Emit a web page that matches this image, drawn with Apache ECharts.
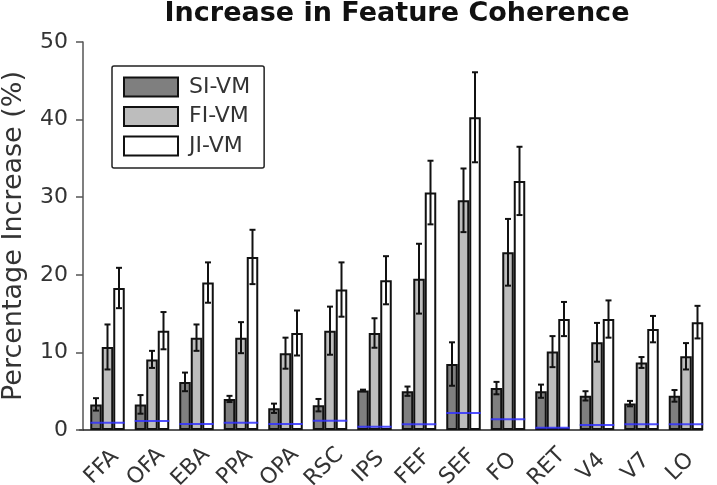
<!DOCTYPE html>
<html>
<head>
<meta charset="utf-8">
<script src="https://cdn.jsdelivr.net/npm/echarts@6/dist/echarts.min.js"></script>
<style>
  html, body { margin: 0; padding: 0; background: #fff; }
  #chart { width: 717px; height: 485px; }
</style>
</head>
<body>
<div id="chart"></div>
<script>
var regions = ['FFA', 'OFA', 'EBA', 'PPA', 'OPA', 'RSC', 'IPS', 'FEF', 'SEF', 'FO', 'RET', 'V4', 'V7', 'LO'];
var siVm = [3.3, 3.3, 6.2, 4.0, 2.8, 3.2, 5.1, 5.0, 8.5, 5.4, 5.0, 4.4, 3.4, 4.4];
var siErr = [0.8, 1.2, 1.2, 0.4, 0.6, 0.8, 0.1, 0.6, 2.8, 0.8, 0.85, 0.6, 0.35, 0.75];
var fiVm = [10.7, 9.1, 11.9, 11.9, 9.9, 12.8, 12.5, 19.5, 29.6, 22.9, 10.1, 11.3, 8.7, 9.5];
var fiErr = [2.9, 1.1, 1.7, 2.0, 2.0, 3.1, 1.9, 4.5, 4.1, 4.3, 2.0, 2.5, 0.7, 1.7];
var jiVm = [18.3, 12.8, 19.0, 22.3, 12.5, 18.1, 19.3, 30.6, 40.3, 32.1, 14.3, 14.3, 13.0, 13.9];
var jiErr = [2.6, 2.4, 2.6, 3.5, 2.9, 3.5, 3.1, 4.1, 5.8, 4.4, 2.2, 2.4, 1.7, 2.1];
// blue baseline drawn across each group
var chance = [0.94, 1.16, 0.77, 0.94, 0.77, 1.2, 0.43, 0.73, 2.2, 1.4, 0.3, 0.64, 0.73, 0.73];

var barW = 11.5;
var font = 'DejaVu Sans';

// error bar series; shift = bar centre offset from the tick, in bar widths
function errSeries(vals, errs, shift) {
  return {
    type: 'custom',
    z: 5,
    data: vals.map(function (v, i) { return [i, v, errs[i]]; }),
    encode: { x: 0, y: 1 },
    renderItem: function (params, api) {
      var i = api.value(0);
      var v = api.value(1);
      var e = api.value(2);
      var x = api.coord([i, 0])[0] + shift * barW;
      var top = api.coord([i, v + e])[1];
      var bot = api.coord([i, v - e])[1];
      var st = { stroke: '#111', lineWidth: 2 };
      return {
        type: 'group',
        children: [
          { type: 'line', shape: { x1: x, y1: top, x2: x, y2: bot }, style: st },
          { type: 'line', shape: { x1: x - 3, y1: top, x2: x + 3, y2: top }, style: st },
          { type: 'line', shape: { x1: x - 3, y1: bot, x2: x + 3, y2: bot }, style: st }
        ]
      };
    }
  };
}

function barSeries(name, vals, color) {
  return {
    name: name,
    type: 'bar',
    barWidth: barW,
    barGap: '0%',
    data: vals,
    itemStyle: { color: color, borderColor: '#111', borderWidth: 2 }
  };
}

var myChart = echarts.init(document.getElementById('chart'));
var option = {
  animation: false,
  title: {
    text: 'Increase in Feature Coherence',
    left: 397,
    textAlign: 'center',
    top: 0,
    padding: 0,
    textStyle: { fontFamily: font, fontWeight: 'bold', fontSize: 27, color: '#111' }
  },
  legend: {
    data: ['SI-VM', 'FI-VM', 'JI-VM'],
    orient: 'vertical',
    left: 112,
    top: 66,
    icon: 'rect',
    itemWidth: 54,
    itemHeight: 19,
    itemGap: 7.5,
    padding: [10, 14, 11, 11],
    borderColor: '#222',
    borderWidth: 1.5,
    borderRadius: 2,
    textStyle: { fontFamily: font, fontSize: 22, lineHeight: 19, color: '#333', padding: [0, 0, 0, 6] }
  },
  grid: { left: 79.5, top: 42, width: 623, bottom: 55, outerBoundsMode: 'none' },
  xAxis: {
    type: 'category',
    data: regions,
    axisLine: { lineStyle: { color: '#222', width: 1.5 } },
    axisTick: { alignWithLabel: true, length: 5, lineStyle: { color: '#222', width: 1.5 } },
    axisLabel: {
      rotate: 45, align: 'center', verticalAlign: 'middle',
      fontFamily: font, fontSize: 22, color: '#333', margin: 37
    }
  },
  yAxis: {
    type: 'value',
    min: 0,
    max: 50,
    interval: 10,
    offset: -3.5,
    name: 'Percentage Increase (%)',
    nameLocation: 'middle',
    nameGap: 56,
    nameTextStyle: { fontFamily: font, fontSize: 27, color: '#333' },
    axisLine: { show: true, lineStyle: { color: '#555', width: 1.5 } },
    axisTick: { show: true, length: 7, lineStyle: { color: '#555', width: 1.5 } },
    axisLabel: { fontFamily: font, fontSize: 22, color: '#333', margin: 15 },
    splitLine: { show: false }
  },
  series: [
    // empty slot so the tick falls between the SI and FI bars
    { name: 'pad', type: 'bar', barWidth: barW, barGap: '0%', data: regions.map(function () { return null; }) },
    barSeries('SI-VM', siVm, '#7f7f7f'),
    barSeries('FI-VM', fiVm, '#bdbdbd'),
    barSeries('JI-VM', jiVm, '#ffffff'),
    errSeries(siVm, siErr, -0.5),
    errSeries(fiVm, fiErr, 0.5),
    errSeries(jiVm, jiErr, 1.5),
    {
      type: 'custom',
      z: 6,
      data: chance.map(function (v, i) { return [i, v]; }),
      encode: { x: 0, y: 1 },
      renderItem: function (params, api) {
        var x = api.coord([api.value(0), 0])[0];
        var y = api.coord([api.value(0), api.value(1)])[1];
        return {
          type: 'line',
          shape: { x1: x - barW, y1: y, x2: x + 2 * barW, y2: y },
          style: { stroke: 'rgba(50,50,255,0.85)', lineWidth: 2 }
        };
      }
    }
  ]
};

myChart.setOption(option);
</script>
</body>
</html>
